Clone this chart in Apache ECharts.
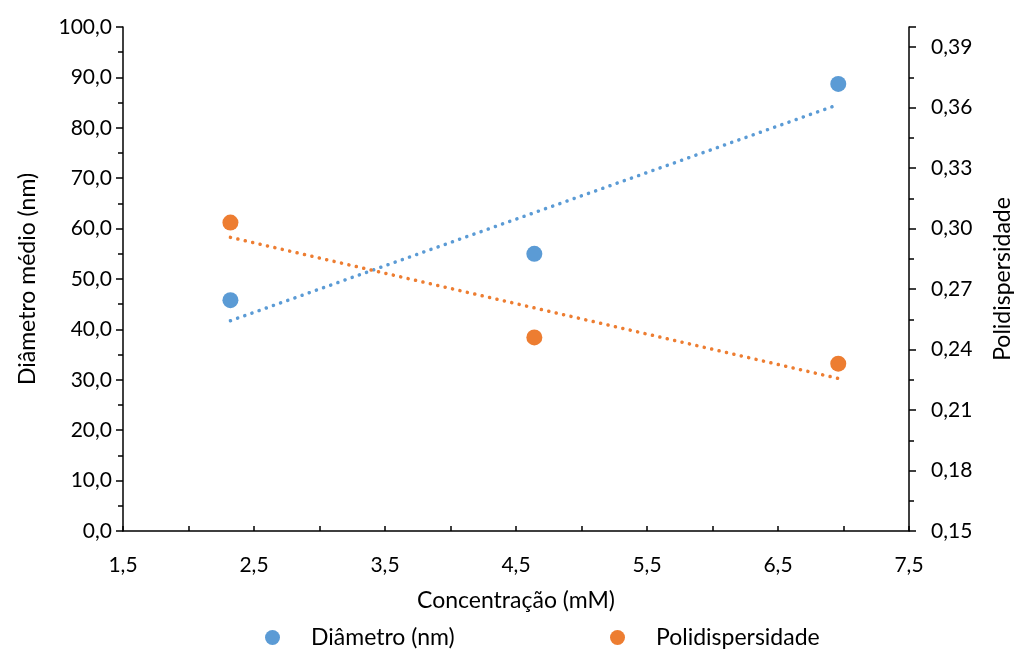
<!DOCTYPE html>
<html>
<head>
<meta charset="utf-8">
<script src="https://cdn.jsdelivr.net/npm/echarts@6/dist/echarts.min.js"></script>
<style>
  html, body { margin: 0; padding: 0; background: #fff; }
  #main { width: 1017px; height: 651px; }
</style>
</head>
<body>
<div id="main"></div>
<script>
// dados
var concentracao = [2.32, 4.64, 6.96];
var diametro = [45.8, 55.0, 88.7];
var polidispersidade = [0.303, 0.246, 0.233];

var azul = '#5B9BD5';
var laranja = '#ED7D31';
var fonte = 'Lato, "Open Sans", sans-serif';

// linha de tendência linear (mínimos quadrados)
function tendencia(xs, ys) {
  var n = xs.length, mx = 0, my = 0;
  for (var i = 0; i < n; i++) { mx += xs[i]; my += ys[i]; }
  mx /= n; my /= n;
  var sxy = 0, sxx = 0;
  for (var j = 0; j < n; j++) {
    sxy += (xs[j] - mx) * (ys[j] - my);
    sxx += (xs[j] - mx) * (xs[j] - mx);
  }
  var b = sxy / sxx, a = my - b * mx;
  var x0 = xs[0], x1 = xs[n - 1];
  return [[x0, a + b * x0], [x1, a + b * x1]];
}

function virgula(v, d) { return v.toFixed(d).replace('.', ','); }

var myChart = echarts.init(document.getElementById('main'));

var eixoBase = {
  axisLine: { show: true, lineStyle: { color: '#000', width: 1.5 } },
  splitLine: { show: false },
  axisLabel: { color: '#000', fontSize: 21, fontFamily: fonte },
  nameTextStyle: { color: '#000', fontSize: 23, fontFamily: fonte }
};

var option = {
  animation: false,
  backgroundColor: '#fff',
  grid: { left: 123, right: 108, top: 27, bottom: 120, outerBoundsMode: 'none' },
  xAxis: Object.assign({}, eixoBase, {
    type: 'value',
    min: 1.5, max: 7.5, interval: 1,
    name: 'Concentração (mM)',
    nameLocation: 'middle',
    nameGap: 58,
    axisTick: { show: true, inside: true, length: 5, lineStyle: { color: '#000', width: 1.5 } },
    minorTick: { show: true, splitNumber: 2, length: 5, lineStyle: { color: '#000', width: 1.5 } },
    axisLabel: Object.assign({}, eixoBase.axisLabel, {
      margin: 24,
      formatter: function (v) { return virgula(v, 1); }
    })
  }),
  yAxis: [
    Object.assign({}, eixoBase, {
      type: 'value',
      min: 0, max: 100, interval: 10,
      name: 'Diâmetro médio (nm)',
      nameLocation: 'middle',
      nameGap: 84,
      axisTick: { show: true, length: 7, lineStyle: { color: '#000', width: 1.5 } },
      minorTick: { show: true, splitNumber: 2, length: 5, lineStyle: { color: '#000', width: 1.5 } },
      axisLabel: Object.assign({}, eixoBase.axisLabel, {
        margin: 11,
        formatter: function (v) { return virgula(v, 1); }
      })
    }),
    Object.assign({}, eixoBase, {
      type: 'value',
      position: 'right',
      min: 0.15, max: 0.40, interval: 0.03,
      name: 'Polidispersidade',
      nameLocation: 'middle',
      nameGap: 82,
      nameRotate: 90,
      axisTick: { show: true, length: 7, lineStyle: { color: '#000', width: 1.5 } },
      minorTick: { show: true, splitNumber: 2, length: 5, lineStyle: { color: '#000', width: 1.5 } },
      axisLabel: Object.assign({}, eixoBase.axisLabel, {
        margin: 22,
        formatter: function (v) {
          if (v > 0.395) return '';
          return virgula(v, 2);
        }
      })
    })
  ],
  legend: [
    {
      left: 260, top: 621,
      data: ['Diâmetro (nm)'],
      icon: 'circle', itemWidth: 15, itemHeight: 15,
      textStyle: { color: '#000', fontSize: 23, fontFamily: fonte, padding: [0, 0, 0, 26] }
    },
    {
      left: 605, top: 621,
      data: ['Polidispersidade'],
      icon: 'circle', itemWidth: 15, itemHeight: 15,
      textStyle: { color: '#000', fontSize: 23, fontFamily: fonte, padding: [0, 0, 0, 26] }
    }
  ],
  series: [
    {
      name: 'Diâmetro (nm)',
      type: 'scatter',
      yAxisIndex: 0,
      symbolSize: 16,
      itemStyle: { color: azul, opacity: 1 },
      data: concentracao.map(function (x, i) { return [x, diametro[i]]; }),
      z: 3
    },
    {
      name: 'Polidispersidade',
      type: 'scatter',
      yAxisIndex: 1,
      symbolSize: 16,
      itemStyle: { color: laranja, opacity: 1 },
      data: concentracao.map(function (x, i) { return [x, polidispersidade[i]]; }),
      z: 3
    },
    {
      name: 'Tendência diâmetro',
      type: 'line',
      yAxisIndex: 0,
      showSymbol: false,
      symbol: 'none',
      lineStyle: { color: azul, width: 3.5, type: [0.1, 7.5], cap: 'round' },
      data: tendencia(concentracao, diametro),
      z: 2
    },
    {
      name: 'Tendência polidispersidade',
      type: 'line',
      yAxisIndex: 1,
      showSymbol: false,
      symbol: 'none',
      lineStyle: { color: laranja, width: 3.5, type: [0.1, 7.5], cap: 'round' },
      data: tendencia(concentracao, polidispersidade),
      z: 2
    }
  ]
};

myChart.setOption(option);
</script>
</body>
</html>
